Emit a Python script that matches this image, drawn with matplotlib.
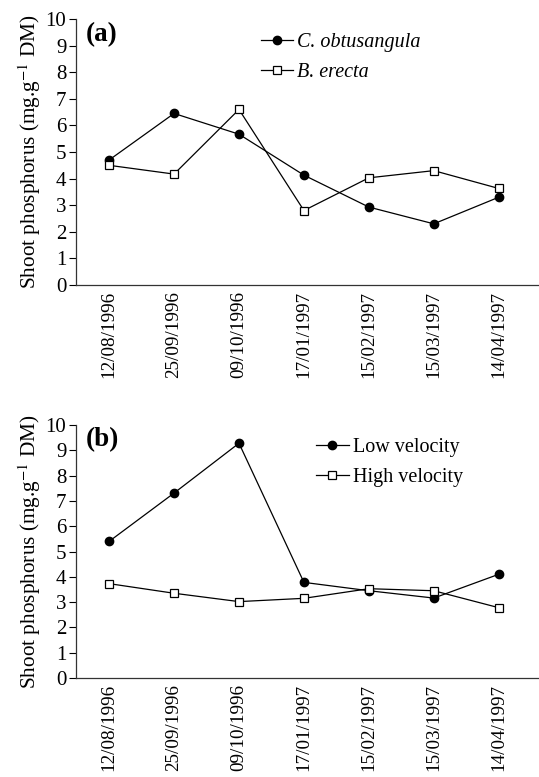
import matplotlib
matplotlib.use("Agg")
import matplotlib.pyplot as plt

dates = ["12/08/1996", "25/09/1996", "09/10/1996", "17/01/1997",
         "15/02/1997", "15/03/1997", "14/04/1997"]

# panel (a): species
c_obtusangula = [4.7, 6.45, 5.67, 4.13, 2.93, 2.3, 3.3]
b_erecta = [4.5, 4.17, 6.6, 2.8, 4.03, 4.3, 3.63]

# panel (b): flow velocity
low_velocity = [5.4, 7.31, 9.28, 3.78, 3.45, 3.16, 4.1]
high_velocity = [3.73, 3.35, 3.02, 3.15, 3.53, 3.45, 2.78]

plt.rcParams["font.family"] = ["Liberation Serif", "DejaVu Serif"]
plt.rcParams["mathtext.fontset"] = "stix"


def draw_panel(ax, s1, s2, name1, name2, tag, italic, leg_x, leg_y):
    x = list(range(len(dates)))
    ax.plot(x, s1, color="black", lw=0.9, marker="o", ms=6,
            mfc="black", mec="black", label=name1)
    ax.plot(x, s2, color="black", lw=0.9, marker="s", ms=6,
            mfc="white", mec="black", mew=0.9, label=name2)
    ax.set_xlim(-0.51, 6.62)
    ax.set_ylim(0, 10)
    ax.set_yticks(range(0, 11))
    ax.set_xticks(x)
    ax.set_xticklabels(dates, rotation=90, fontsize=13.8)
    ax.tick_params(axis="y", direction="out", length=5, width=0.8,
                   labelsize=15, pad=2)
    ax.tick_params(axis="x", length=0, pad=4)
    for side in ["top", "right"]:
        ax.spines[side].set_visible(False)
    for side in ["left", "bottom"]:
        ax.spines[side].set_color("#333333")
        ax.spines[side].set_linewidth(0.9)
    ax.set_ylabel("Shoot phosphorus (mg.g$^{-1}$ DM)", fontsize=15.3,
                  labelpad=2)
    ax.text(0.022, 0.99, tag, transform=ax.transAxes, fontsize=19.5,
            fontweight="bold", va="top", ha="left")
    ax.legend(loc="upper left", bbox_to_anchor=(leg_x, leg_y),
              frameon=False, handlelength=1.6, handletextpad=0.2,
              labelspacing=0.55,
              prop={"size": 14.5, "style": "italic" if italic else "normal"})


fig = plt.figure(figsize=(5.39, 7.77), dpi=100)
ax1 = fig.add_axes([0.141, 0.6332, 0.859, 0.3423])
ax2 = fig.add_axes([0.141, 0.1274, 0.859, 0.3256])

draw_panel(ax1, c_obtusangula, b_erecta, "C. obtusangula", "B. erecta",
           "(a)", True, 0.36, 1.015)
draw_panel(ax2, low_velocity, high_velocity, "Low velocity", "High velocity",
           "(b)", False, 0.48, 1.02)

fig.savefig("out.png", dpi=100)
